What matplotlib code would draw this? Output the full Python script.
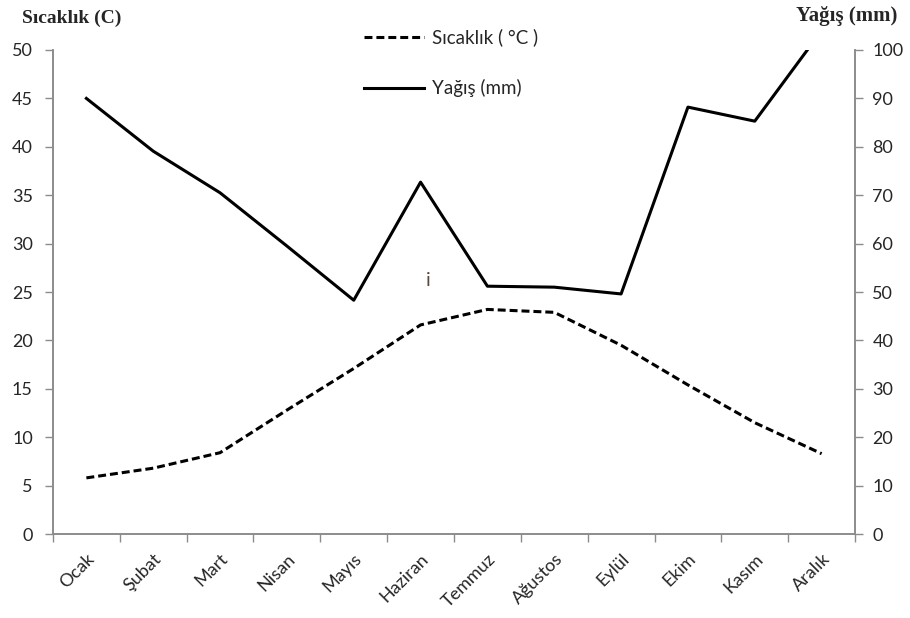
import numpy
import matplotlib
matplotlib.use("Agg")
import matplotlib.pyplot as pyplot
import matplotlib.ticker as ticker


pyplot.rc("font", family=["Lato", "DejaVu Sans"], size=13)

months = ["Ocak", "Şubat", "Mart", "Nisan", "Mayıs", "Haziran",
          "Temmuz", "Ağustos", "Eylül", "Ekim", "Kasım", "Aralık"]

# monthly mean temperature (°C)
temperature = [5.8, 6.8, 8.4, 12.8, 17.1, 21.6, 23.2, 22.9, 19.5, 15.4, 11.5, 8.3]

# monthly precipitation (mm)
precipitation = [90.0, 79.1, 70.5, 59.5, 48.3, 72.7, 51.2, 51.0, 49.6, 88.2, 85.3, 104.0]

spineColor = "#8c8c8c"
textColor = "#262626"

figure = pyplot.figure(figsize=(9.10, 6.18), dpi=100)
axes = figure.add_axes([0.0582, 0.1359, 0.8814, 0.7832])
axesRight = axes.twinx()

x = numpy.arange(len(months))

lineTemp, = axes.plot(x, temperature, color="black", linewidth=2.2,
                      linestyle=(0, (2.6, 1.3)), label="Sıcaklık ( °C )")
lineRain, = axesRight.plot(x, precipitation, color="black", linewidth=2.2,
                           label="Yağış (mm)")

axes.set_xlim(-0.5, len(months) - 0.5)
axes.set_ylim(0, 50)
axesRight.set_ylim(0, 100)

axes.yaxis.set_major_locator(ticker.MultipleLocator(5))
axesRight.yaxis.set_major_locator(ticker.MultipleLocator(10))

axes.set_xticks(x)
axes.set_xticklabels(months, rotation=45, ha="right", rotation_mode="anchor")
axes.set_xticks(numpy.arange(-0.5, len(months)), minor=True)
axes.tick_params(axis="x", which="major", length=0, pad=12, labelsize=13,
                 labelcolor=textColor)
axes.tick_params(axis="x", which="minor", length=5.5, color=spineColor, width=1)
axes.tick_params(axis="y", length=5.5, color=spineColor, width=1, pad=9,
                 labelsize=13, labelcolor=textColor)
axesRight.tick_params(axis="y", length=5.5, color=spineColor, width=1, pad=7,
                      labelsize=13, labelcolor=textColor)

for ax in (axes, axesRight):
    ax.spines["top"].set_visible(False)
    for side in ("left", "right", "bottom"):
        ax.spines[side].set_color(spineColor)
        ax.spines[side].set_linewidth(1.2)

titleFont = {"family": "Liberation Serif", "weight": "bold", "color": textColor}
figure.text(0.024, 0.971, "Sıcaklık (C)", fontdict=titleFont, size=14,
            va="center")
figure.text(0.986, 0.974, "Yağış (mm)", fontdict=titleFont, size=15,
            va="center", ha="right")

axes.text(5.12, 26.2, "i", fontsize=14, color="#5a4a3a", ha="center",
          va="center")

legend = axes.legend(handles=[lineTemp, lineRain], loc="upper left",
                     bbox_to_anchor=(0.378, 1.06), frameon=False,
                     handlelength=3.2, handletextpad=0.45, labelspacing=1.75,
                     fontsize=13.5, borderaxespad=0)
for text in legend.get_texts():
    text.set_color(textColor)

figure.savefig("out.png", dpi=100)
